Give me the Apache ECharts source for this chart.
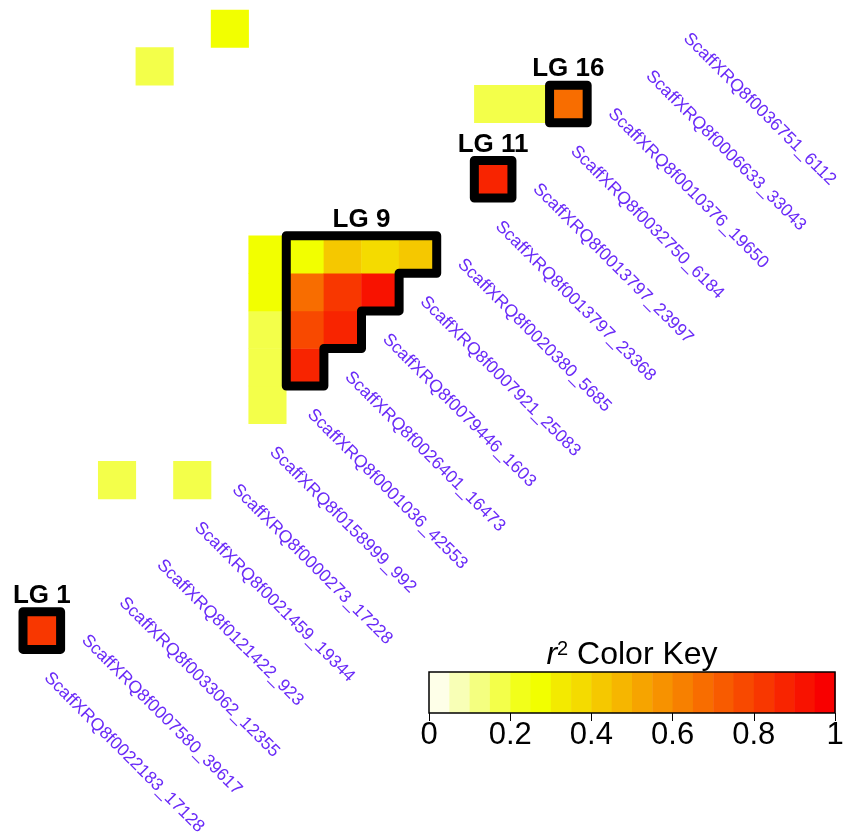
<!DOCTYPE html>
<html><head><meta charset="utf-8">
<script src="https://cdn.jsdelivr.net/npm/echarts@6/dist/echarts.min.js"></script>
<style>html,body{margin:0;padding:0;background:#fff}#c{width:847px;height:835px}</style>
</head><body><div id="c"></div>
<script>
// Marker names, ordered along the diagonal (bottom-left to top-right)
const markers = [
  'ScaffXRQ8f0022183_17128','ScaffXRQ8f0007580_39617','ScaffXRQ8f0033062_12355',
  'ScaffXRQ8f0121422_923','ScaffXRQ8f0021459_19344','ScaffXRQ8f0000273_17228',
  'ScaffXRQ8f0158999_992','ScaffXRQ8f0001036_42553','ScaffXRQ8f0026401_16473',
  'ScaffXRQ8f0079446_1603','ScaffXRQ8f0007921_25083','ScaffXRQ8f0020380_5685',
  'ScaffXRQ8f0013797_23368','ScaffXRQ8f0013797_23997','ScaffXRQ8f0032750_6184',
  'ScaffXRQ8f0010376_19650','ScaffXRQ8f0006633_33043','ScaffXRQ8f0036751_6112'
];
// Pairwise r^2 cells (marker numbers, 1-based); pairs not listed are blank
const cellI  = [1, 3, 5, 7, 7, 7, 7, 7, 8, 8, 8, 8, 9, 9, 9, 10, 10, 11, 13, 13, 14, 15, 4, 6];
const cellJ  = [2, 6, 6, 8, 9, 10, 11, 12, 9, 10, 11, 12, 10, 11, 12, 11, 12, 12, 14, 16, 16, 16, 17, 18];
const cellR2 = [0.82, 0.17, 0.17, 0.17, 0.17, 0.17, 0.27, 0.27, 0.87, 0.76, 0.67, 0.27, 0.87, 0.82, 0.42, 0.92, 0.37, 0.42, 0.88, 0.17, 0.17, 0.67, 0.17, 0.27];
// Linkage groups (first and last marker of each block)
const groupNames = ['LG 1', 'LG 9', 'LG 11', 'LG 16'];
const groupFirst = [1, 8, 13, 15];
const groupLast  = [2, 12, 14, 16];
// Colour key
const keyBreaks = [0,0.05,0.1,0.15,0.2,0.25,0.3,0.35,0.4,0.45,0.5,0.55,0.6,0.65,0.7,0.75,0.8,0.85,0.9,0.95,1];
const keyTicks = [0, 0.2, 0.4, 0.6, 0.8, 1];
const palette = ['#FEFFE8','#F8FFB6','#F4FF80','#F3FF4A','#F2FF1A','#F2FF00','#F3EA00','#F4DB00','#F5C800',
  '#F6B600','#F6A400','#F79200','#F78000','#F86D00','#F85B00','#F84900','#F83700','#F82400','#F81200','#F80000'];

const FONT = "'Liberation Sans', Arial, Helvetica, sans-serif";
const N = markers.length;
const idx = markers.map((m, k) => String(k + 1));

const pieces = palette.map((c, n) => ({ gte: keyBreaks[n], lt: keyBreaks[n + 1], color: c }));
pieces[pieces.length - 1] = { gte: keyBreaks[19], lte: 1, color: palette[19] };

const chart = echarts.init(document.getElementById('c'), null, { renderer: 'canvas' });

function gridEdges(api) {
  const c0 = api.coord([0, N - 1]);
  const sz = api.size([1, 1]);
  return {
    ex: X => c0[0] - sz[0] / 2 + X * sz[0],
    ey: Y => c0[1] - sz[1] / 2 + Y * sz[1]
  };
}

chart.setOption({
  animation: false,
  title: {
    text: '{r|r}{s|2}{t| Color Key}',
    left: 632, top: 639, textAlign: 'center', padding: 0,
    textStyle: {
      fontWeight: 'normal',
      rich: {
        r: { fontStyle: 'italic', fontWeight: 'normal', fontSize: 32, fontFamily: FONT, color: '#000' },
        s: { fontSize: 20, fontWeight: 'normal', fontFamily: FONT, color: '#000', verticalAlign: 'top' },
        t: { fontSize: 32, fontWeight: 'normal', fontFamily: FONT, color: '#000' }
      }
    }
  },
  grid: [
    { left: 23, top: 10, width: 677, height: 677 },
    { left: 429, top: 672, width: 406, height: 41 }
  ],
  xAxis: [
    { type: 'category', gridIndex: 0, data: idx, show: false },
    { type: 'value', gridIndex: 1, min: 0, max: 1, interval: 0.2,
      axisLine: { show: false }, splitLine: { show: false },
      axisTick: { show: true, length: 8, lineStyle: { color: '#000', width: 1 } },
      axisLabel: { fontSize: 31, color: '#000', fontFamily: FONT, margin: 7, showMinLabel: true, showMaxLabel: true,
        formatter: v => String(keyTicks.find(t => Math.abs(t - v) < 1e-9) ?? v) } }
  ],
  yAxis: [
    { type: 'category', gridIndex: 0, data: idx, show: false },
    { type: 'value', gridIndex: 1, min: 0, max: 1, show: false }
  ],
  visualMap: { type: 'piecewise', show: false, seriesIndex: 0, dimension: 2, pieces: pieces },
  series: [
    {
      type: 'heatmap', xAxisIndex: 0, yAxisIndex: 0,
      data: cellI.map((i, n) => [i - 1, cellJ[n] - 1, cellR2[n]]),
      itemStyle: { borderWidth: 0 }
    },
    {
      type: 'custom', xAxisIndex: 0, yAxisIndex: 0, z: 5,
      data: markers.map((m, k) => [k, k]),
      renderItem: (params, api) => {
        const p = api.coord([api.value(0), api.value(1)]);
        return {
          type: 'text', x: p[0] + 5, y: p[1] + 7, rotation: -Math.PI / 4,
          style: { text: markers[params.dataIndex], fill: '#6A2BF8', fontSize: 17.5, fontFamily: FONT,
                   align: 'left', verticalAlign: 'middle' }
        };
      }
    },
    {
      type: 'custom', xAxisIndex: 0, yAxisIndex: 0, z: 6,
      data: groupFirst.map((f, n) => [f, groupLast[n]]),
      renderItem: (params, api) => {
        const f = api.value(0), l = api.value(1);
        const { ex, ey } = gridEdges(api);
        const a = f - 1, R0 = N - l, Rb = N - f;
        const pts = [[ex(a), ey(R0)]];
        for (let r = R0; r < Rb; r++) {
          const X = N - 1 - r;
          pts.push([ex(X), ey(r)]);
          pts.push([ex(X), ey(r + 1)]);
        }
        pts.push([ex(a), ey(Rb)]);
        return {
          type: 'group',
          children: [
            { type: 'polygon', shape: { points: pts },
              style: { fill: 'none', stroke: '#000', lineWidth: 9, lineJoin: 'round' } },
            { type: 'text', x: (ex(a) + ex(N - 1 - R0)) / 2, y: ey(R0) - 3,
              style: { text: groupNames[params.dataIndex], fill: '#000', fontSize: 26, fontWeight: 'bold',
                       fontFamily: FONT, align: 'center', verticalAlign: 'bottom' } }
          ]
        };
      }
    },
    {
      type: 'custom', xAxisIndex: 1, yAxisIndex: 1, z: 2,
      data: palette.map((c, n) => [keyBreaks[n], keyBreaks[n + 1]]),
      renderItem: (params, api) => {
        const p0 = api.coord([api.value(0), 0]);
        const p1 = api.coord([api.value(1), 1]);
        return { type: 'rect', shape: { x: p0[0], y: p1[1], width: p1[0] - p0[0] + 0.5, height: p0[1] - p1[1] },
                 style: { fill: palette[params.dataIndex] } };
      }
    },
    {
      type: 'custom', xAxisIndex: 1, yAxisIndex: 1, z: 3,
      data: [[0, 1]],
      renderItem: (params, api) => {
        const p0 = api.coord([api.value(0), 0]);
        const p1 = api.coord([api.value(1), 1]);
        return { type: 'rect', shape: { x: p0[0], y: p1[1], width: p1[0] - p0[0], height: p0[1] - p1[1] },
                 style: { fill: 'none', stroke: '#000', lineWidth: 1.5 } };
      }
    }
  ]
});
</script></body></html>
